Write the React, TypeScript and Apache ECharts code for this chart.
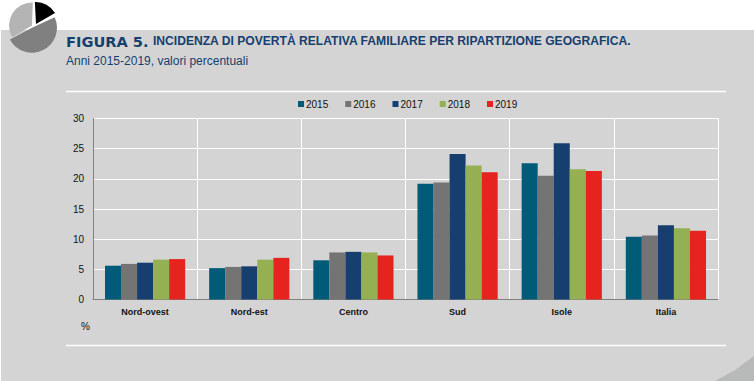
import React, { useEffect, useRef } from "react";
import * as echarts from "echarts";

const categories = ["Nord-ovest", "Nord-est", "Centro", "Sud", "Isole", "Italia"];
const y2015 = [5.6, 5.2, 6.5, 19.2, 22.6, 10.4];
const y2016 = [5.9, 5.4, 7.8, 19.4, 20.5, 10.6];
const y2017 = [6.1, 5.5, 7.9, 24.1, 25.9, 12.3];
const y2018 = [6.6, 6.6, 7.8, 22.2, 21.6, 11.8];
const y2019 = [6.7, 6.9, 7.3, 21.1, 21.3, 11.4];
const seriesNames = ["2015", "2016", "2017", "2018", "2019"];
const seriesValues = [y2015, y2016, y2017, y2018, y2019];
const seriesColors = ["#005b78", "#747474", "#163f70", "#95b052", "#e5231f"];
const titleBold = "FIGURA 5.";
const titleRest = "INCIDENZA DI POVERTÀ RELATIVA FAMILIARE PER RIPARTIZIONE GEOGRAFICA.";
const subtitle = "Anni 2015-2019, valori percentuali";

const FONT = "'Liberation Sans', Arial, sans-serif";
const BLUE = "#163f70";

export default function App() {
  const ref = useRef<HTMLDivElement>(null);
  useEffect(() => {
    document.body.style.margin = "0";
    document.body.style.background = "#fff";
    const chart = echarts.init(ref.current!, undefined, { renderer: "svg" });
    const rad = (d: number) => (d * Math.PI) / 180;
    chart.setOption({
      animation: false,
      backgroundColor: "#ffffff",
      textStyle: { fontFamily: FONT },
      grid: { left: 93, right: 36, top: 118.5, height: 181, containLabel: false },
      legend: {
        top: 94,
        left: 293,
        itemWidth: 6,
        itemHeight: 6,
        itemGap: 17,
        icon: "rect",
        selectedMode: false,
        data: seriesNames,
        textStyle: { fontSize: 10, color: "#111", padding: [0, 0, 0, -3], fontFamily: FONT },
      },
      xAxis: {
        type: "category",
        data: categories,
        axisLine: { lineStyle: { color: "#808080", width: 1 } },
        axisTick: { show: false },
        axisLabel: { fontSize: 9, fontWeight: "bold", color: "#111", margin: 8, fontFamily: FONT },
        splitLine: { show: true, interval: 0, lineStyle: { color: "#ffffff", width: 1 } },
      },
      yAxis: {
        type: "value",
        min: 0,
        max: 30,
        interval: 5,
        axisLine: { show: true, lineStyle: { color: "#808080", width: 1 } },
        axisTick: { show: false },
        axisLabel: { fontSize: 10, color: "#111", margin: 9, fontFamily: FONT },
        splitLine: { show: true, lineStyle: { color: "#ffffff", width: 1 } },
      },
      series: seriesNames.map((name, i) => ({
        name,
        type: "bar",
        data: seriesValues[i],
        barGap: 0,
        barCategoryGap: "23%",
        itemStyle: { color: seriesColors[i] },
      })),
      graphic: [
        { type: "rect", z: -1, silent: true, shape: { x: 1, y: 30, width: 753, height: 351 }, style: { fill: "#d4d4d4" } },
        { type: "polygon", z: -1, silent: true, shape: { points: [[754, 356], [735, 370], [715, 381], [754, 381]] }, style: { fill: "#b8bab9" } },
        { type: "line", shape: { x1: 66, y1: 91.5, x2: 726, y2: 91.5 }, style: { stroke: "#fff", lineWidth: 1.5 } },
        { type: "line", shape: { x1: 66, y1: 345.5, x2: 726, y2: 345.5 }, style: { stroke: "#fff", lineWidth: 1.5 } },
        { type: "sector", shape: { cx: 32, cy: 27.7, r0: 0, r: 25, startAngle: rad(-25), endAngle: rad(152), clockwise: true }, style: { fill: "#808080" } },
        { type: "sector", shape: { cx: 32, cy: 25.5, r0: 0, r: 23, startAngle: rad(149), endAngle: rad(272) }, style: { fill: "#b4b4b4" } },
        { type: "sector", shape: { cx: 36, cy: 24, r0: 0, r: 22, startAngle: rad(-93), endAngle: rad(-30) }, style: { fill: "#000000" } },
        { type: "text", x: 66, y: 34, style: { text: titleBold, font: `bold 14.6px 'DejaVu Sans', sans-serif`, fill: BLUE } },
        { type: "text", x: 153, y: 35, style: { text: titleRest, font: `bold 12.1px ${FONT}`, fill: BLUE } },
        { type: "text", x: 66, y: 55, style: { text: subtitle, font: `12px ${FONT}`, fill: BLUE } },
        { type: "text", x: 81, y: 321, style: { text: "%", font: `10px ${FONT}`, fill: "#111" } },
      ],
    });
    return () => chart.dispose();
  }, []);
  return <div ref={ref} style={{ width: 754, height: 381 }} />;
}
